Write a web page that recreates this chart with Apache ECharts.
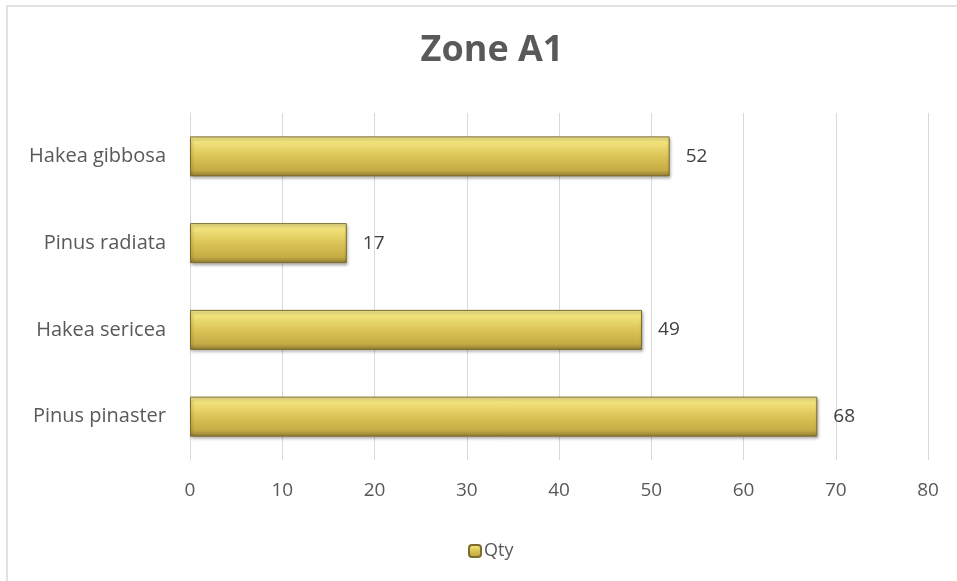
<!DOCTYPE html>
<html>
<head>
<meta charset="utf-8">
<script src="https://cdn.jsdelivr.net/npm/echarts@6/dist/echarts.min.js"></script>
<style>
  html, body { margin: 0; padding: 0; background: #fff; }
  #chart { width: 957px; height: 581px; }
</style>
</head>
<body>
<div id="chart"></div>
<script>
// Species counted in the zone (bottom to top on the category axis)
const species = ['Pinus pinaster', 'Hakea sericea', 'Pinus radiata', 'Hakea gibbosa'];
const qty = [68, 49, 17, 52];
const xTicks = [0, 10, 20, 30, 40, 50, 60, 70, 80];

const chart = echarts.init(document.getElementById('chart'), null, { renderer: 'canvas' });

const goldFill = new echarts.graphic.LinearGradient(0, 0, 0, 1, [
  { offset: 0, color: '#f6ea8e' },
  { offset: 0.15, color: '#f1e27a' },
  { offset: 0.5, color: '#dbc456' },
  { offset: 0.85, color: '#c6ab45' },
  { offset: 1, color: '#8c7833' }
]);

const font = 'Open Sans';

chart.setOption({
  animation: false,
  graphic: [{
    type: 'rect',
    shape: { x: 7, y: 6, width: 980, height: 600 },
    style: { fill: 'none', stroke: '#d9d9d9', lineWidth: 1.5 },
    silent: true
  }],
  title: {
    text: 'Zone A1',
    left: 487,
    top: 28,
    textAlign: 'center',
    textStyle: { fontFamily: font, fontWeight: 'bold', fontSize: 36, color: '#595959' }
  },
  legend: {
    data: ['Qty'],
    left: 463,
    top: 537,
    itemWidth: 12,
    itemHeight: 12,
    itemGap: 4,
    textStyle: { fontFamily: font, fontSize: 18, color: '#595959', padding: [0, 0, 0, -2] }
  },
  grid: { left: 190, right: 29, top: 113, bottom: 121, containLabel: false },
  xAxis: {
    type: 'value',
    min: xTicks[0],
    max: xTicks[xTicks.length - 1],
    interval: xTicks[1] - xTicks[0],
    axisLine: { show: false },
    axisTick: { show: false },
    axisLabel: { fontFamily: font, fontSize: 19, color: '#595959', margin: 21 },
    splitLine: { lineStyle: { color: '#d9d9d9', width: 1 } }
  },
  yAxis: {
    type: 'category',
    data: species,
    axisLine: { show: true, lineStyle: { color: '#d9d9d9', width: 1 } },
    axisTick: { show: false },
    axisLabel: { fontFamily: font, fontSize: 20, color: '#595959', margin: 24 }
  },
  series: [{
    name: 'Qty',
    type: 'bar',
    data: qty,
    barWidth: 40,
    itemStyle: {
      color: goldFill,
      borderColor: '#7d6c2c',
      borderWidth: 1,
      shadowColor: 'rgba(0,0,0,0.35)',
      shadowBlur: 3,
      shadowOffsetX: 1,
      shadowOffsetY: 2
    },
    label: {
      show: true,
      position: 'right',
      distance: 16,
      fontFamily: font,
      fontSize: 19,
      color: '#404040'
    }
  }]
});
</script>
</body>
</html>
